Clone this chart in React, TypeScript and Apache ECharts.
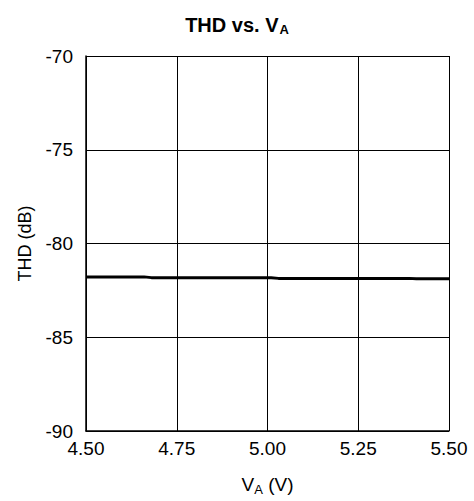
import React, { useEffect, useRef } from "react";
import * as echarts from "echarts";

const supplyVoltage = [4.5, 4.66, 4.68, 5.01, 5.03, 5.39, 5.41, 5.5];
const thdValues = [-81.78, -81.78, -81.82, -81.83, -81.86, -81.86, -81.88, -81.88];
const xTicks = [4.5, 4.75, 5.0, 5.25, 5.5];
const yTicks = [-90, -85, -80, -75, -70];

const FONT = "'Liberation Sans', Arial, Helvetica, sans-serif";

export default function App() {
  const ref = useRef<HTMLDivElement>(null);
  useEffect(() => {
    if (!ref.current) return;
    const chart = echarts.init(ref.current, null, { renderer: "svg" });
    const data = supplyVoltage.map((v, i) => [v, thdValues[i]]);
    chart.setOption({
      animation: false,
      backgroundColor: "#ffffff",
      title: {
        text: "{m|THD vs. V}{s|A}",
        left: "center",
        top: 8,
        textStyle: {
          rich: {
            m: { fontFamily: FONT, fontSize: 20, fontWeight: "bold", color: "#000" },
            s: {
              fontFamily: FONT,
              fontSize: 13,
              fontWeight: "bold",
              color: "#000",
              verticalAlign: "bottom",
              padding: [10, 0, 0, 1],
            },
          },
        },
      },
      grid: { left: 86, right: 25, top: 56, bottom: 68, containLabel: false },
      xAxis: {
        type: "value",
        min: xTicks[0],
        max: xTicks[xTicks.length - 1],
        interval: 0.25,
        axisLine: { show: true, onZero: false, lineStyle: { color: "#000", width: 1.5 } },
        axisTick: { show: false },
        splitLine: { show: true, lineStyle: { color: "#000", width: 1 } },
        axisLabel: {
          color: "#000",
          fontFamily: FONT,
          fontSize: 19,
          margin: 8,
          formatter: (v: number) => v.toFixed(2),
        },
        name: "{m|V}{s|A}{m| (V)}",
        nameLocation: "middle",
        nameGap: 42,
        nameTextStyle: {
          rich: {
            m: { fontFamily: FONT, fontSize: 19, color: "#000" },
            s: { fontFamily: FONT, fontSize: 13, color: "#000", verticalAlign: "bottom", padding: [10, 0, 0, 0] },
          },
        },
      },
      yAxis: {
        type: "value",
        min: yTicks[0],
        max: yTicks[yTicks.length - 1],
        interval: 5,
        axisLine: { show: true, onZero: false, lineStyle: { color: "#000", width: 1.5 } },
        axisTick: { show: false },
        splitLine: { show: true, lineStyle: { color: "#000", width: 1 } },
        axisLabel: { color: "#000", fontFamily: FONT, fontSize: 19, margin: 13 },
        name: "THD (dB)",
        nameLocation: "middle",
        nameGap: 52,
        nameTextStyle: { fontFamily: FONT, fontSize: 18, color: "#000" },
      },
      series: [
        {
          type: "line",
          data,
          showSymbol: false,
          lineStyle: { color: "#000", width: 3 },
        },
      ],
    });
    return () => chart.dispose();
  }, []);
  return <div ref={ref} style={{ width: 474, height: 501, position: "absolute", left: 0, top: 0 }} />;
}
